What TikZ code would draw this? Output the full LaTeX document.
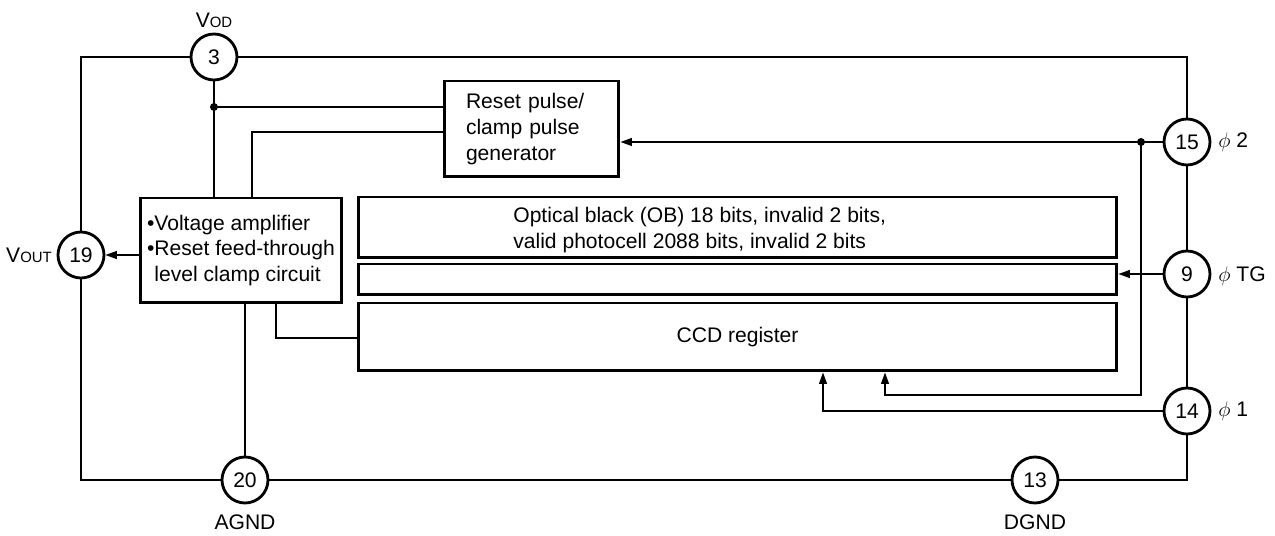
\documentclass[tikz,border=0pt]{standalone}
\usepackage{fontspec}
\setmainfont{Liberation Sans}
\usetikzlibrary{arrows.meta}
\tikzset{
  pin/.style={circle, draw, line width=1.6pt, minimum size=0.92cm, inner sep=0pt},
  blk/.style={draw, line width=1.7pt, rectangle, inner sep=0pt},
  wire/.style={line width=0.8pt},
  arr/.style={wire, -{Triangle[length=6.5pt,width=4.5pt]}},
  tag/.style={inner sep=0pt},
}
\newcommand{\smc}[1]{{\fontsize{8.5}{9}\selectfont #1}}
\begin{document}
\begin{tikzpicture}[x=0.02cm, y=-0.02cm, font=\fontsize{12}{14.7}\selectfont]
  \useasboundingbox (0,0) rectangle (1275,536);
  \node[blk, minimum width=4.04cm, minimum height=2.1cm, align=left] (amp) at (241,250.5)
    {\textbullet Voltage amplifier\\\textbullet Reset feed-through\\\hphantom{\textbullet}level clamp circuit};
  \node[blk, minimum width=3.5cm, minimum height=1.92cm, text width=2.62cm, align=left] (rpg) at (531.5,129)
    {Reset pulse/\\clamp pulse\\generator};
  \node[blk, minimum width=15.18cm, minimum height=1.22cm] (ob) at (737.5,227.5) {};
  \node[tag, anchor=west, align=left] (obtext) at (513,230)
    {Optical black (OB) 18 bits, invalid 2 bits,\\valid photocell 2088 bits, invalid 2 bits};
  \node[blk, minimum width=15.18cm, minimum height=0.62cm] (tg) at (737.5,279.5) {};
  \node[blk, minimum width=15.18cm, minimum height=1.36cm] (ccd) at (737.5,337) {CCD register};

  \node[pin] (p3) at (214,57) {3};
  \node[pin] (p19) at (81,255) {19};
  \node[pin] (p20) at (245,480) {20};
  \node[pin] (p13) at (1035,480) {13};
  \node[pin] (p14) at (1187,411) {14};
  \node[pin] (p9) at (1187,274) {9};
  \node[pin] (p15) at (1187,142) {15};

  \node[tag] (lvod) at (214,20) {V\smc{OD}};
  \node[tag] (lvout) at (29,255) {V\smc{OUT}};
  \node[tag] (lagnd) at (245,522) {AGND};
  \node[tag] (ldgnd) at (1035,522) {DGND};
  \node[tag, anchor=west] (lp15) at (1218,142) {$\phi$ 2};
  \node[tag, anchor=west] (lp9) at (1218,276) {$\phi$ TG};
  \node[tag, anchor=west] (lp14) at (1218,411) {$\phi$ 1};

  \coordinate (jn) at (214,107);
  \coordinate (d2) at (1141,142);
  \coordinate (c2) at (885,395);
  \coordinate (c1) at (823,411);
  \coordinate (c3) at (276,338);
  \coordinate (c4) at (252,132);

  \draw[wire] (p3.west) -| (p19.north);
  \draw[wire] (p19.south) |- (p20.west);
  \draw[wire] (p20.east) -- (p13.west);
  \draw[wire] (p13.east) -| (p14.south);
  \draw[wire] (p14.north) -- (p9.south);
  \draw[wire] (p9.north) -- (p15.south);
  \draw[wire] (p15.north) |- (p3.east);

  \draw[wire] (p3.south) -- (p3 |- amp.north);
  \draw[wire] (jn) -- (jn -| rpg.west);
  \fill (jn) circle (4);
  \draw[wire] (c4 -| rpg.west) -- (c4) -- (c4 |- amp.north);
  \draw[arr] (p15.west) -- (p15.west -| rpg.east);
  \fill (d2) circle (4);
  \draw[arr] (d2) |- (c2) -- (c2 |- ccd.south);
  \draw[arr] (p14.west) -- (c1) -- (c1 |- ccd.south);
  \draw[arr] (p9.west) -- (p9.west -| tg.east);
  \draw[arr] (amp.west |- p19) -- (p19.east);
  \draw[wire] (p20.north) -- (p20 |- amp.south);
  \draw[wire] (c3 |- amp.south) -- (c3) -- (c3 -| ccd.west);
\end{tikzpicture}
\end{document}
